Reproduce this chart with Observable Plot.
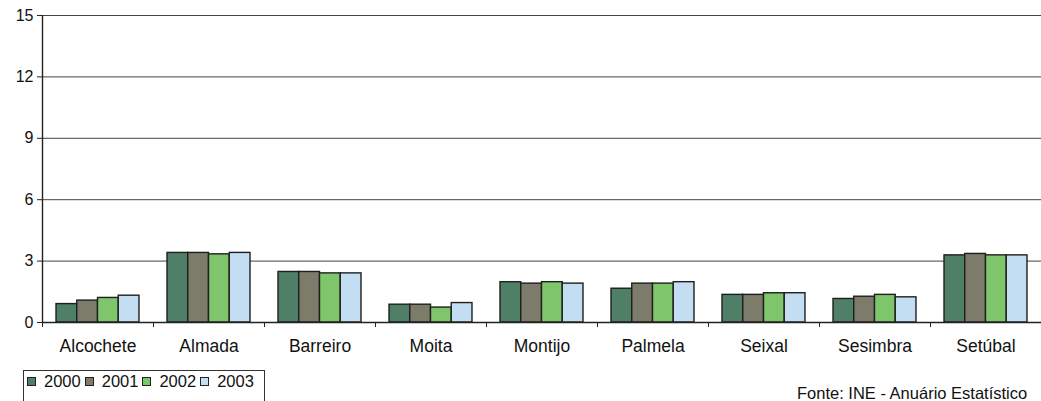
<!DOCTYPE html>
<html>
<head>
<meta charset="utf-8">
<script src="https://cdn.jsdelivr.net/npm/d3@7"></script>
<script src="https://cdn.jsdelivr.net/npm/@observablehq/plot@0.6"></script>
<style>
  body { margin: 0; background: #fff; font-family: "Liberation Sans", Arial, sans-serif; }
  #wrap { position: relative; width: 1041px; height: 401px; overflow: hidden; }
  #legend { position: absolute; left: 23px; top: 370px; width: 242px; height: 40px; border: 1px solid #333; box-sizing: border-box; font-size: 16.5px; color: #111; display: flex; align-items: flex-start; padding: 1px 0 0 3px; white-space: nowrap; overflow: hidden; }
  #legend .item { display: flex; align-items: center; margin-right: 4px; }
  #legend .sw { width: 7px; height: 7px; border: 1px solid #222; margin-right: 8px; }
  #source { position: absolute; left: 797px; top: 384px; font-size: 16.5px; color: #111; white-space: nowrap; }
</style>
</head>
<body>
<div id="wrap">
  <div id="chart"></div>
  <div id="legend"></div>
  <div id="source"></div>
</div>
<script>
const categories = ["Alcochete", "Almada", "Barreiro", "Moita", "Montijo", "Palmela", "Seixal", "Sesimbra", "Setúbal"];
const years = [2000, 2001, 2002, 2003];
const v2000 = [0.90, 3.40, 2.47, 0.87, 1.97, 1.65, 1.35, 1.15, 3.28];
const v2001 = [1.07, 3.40, 2.47, 0.87, 1.90, 1.90, 1.35, 1.26, 3.35];
const v2002 = [1.20, 3.33, 2.40, 0.73, 1.97, 1.90, 1.43, 1.35, 3.28];
const v2003 = [1.31, 3.40, 2.40, 0.95, 1.90, 1.97, 1.43, 1.23, 3.28];
const yTicks = [0, 3, 6, 9, 12, 15];
const colors = ["#4f7f66", "#7d7b69", "#7fc56c", "#c3def2"];
const sourceText = "Fonte: INE - Anuário Estatístico";

const series = [v2000, v2001, v2002, v2003];
const data = [];
categories.forEach((c, i) => years.forEach((yr, j) => data.push({category: c, year: yr, value: series[j][i]})));

const xDomain = [years[0] - 0.675, years[years.length - 1] + 1.675];

const chart = Plot.plot({
  width: 1041,
  height: 362,
  marginLeft: 42,
  marginRight: 0,
  marginTop: 15,
  marginBottom: 40,
  style: {fontFamily: "'Liberation Sans', Arial, sans-serif", background: "#fff"},
  fx: {domain: categories, padding: 0, label: null},
  x: {domain: xDomain, label: null},
  y: {domain: [0, 15], label: null},
  color: {domain: years, range: colors},
  marks: [
    Plot.ruleY(yTicks.filter(d => d > 0), {stroke: "#444", strokeWidth: 1}),
    Plot.rectY(data, {fx: "category", x1: "year", x2: d => d.year + 1, y: "value", fill: "year", stroke: "#1f1f1f", strokeWidth: 1.4}),
    Plot.ruleY([0], {stroke: "#222", strokeWidth: 1.4}),
    Plot.ruleX([{c: categories[0]}], {fx: "c", x: () => xDomain[0], y1: 0, y2: 15, stroke: "#222", strokeWidth: 1.4}),
    Plot.axisY({ticks: yTicks, tickSize: 5, tickPadding: 4, fontSize: 16, fill: "#111", stroke: "#222"}),
    Plot.axisX({ticks: [xDomain[0]], tickFormat: () => "", tickSize: 5, stroke: "#222", label: null}),
    Plot.axisFx({anchor: "bottom", tickSize: 0, tickPadding: 17, fontSize: 17.5, fill: "#111", label: null})
  ]
});
document.getElementById("chart").append(chart);

const legend = document.getElementById("legend");
years.forEach((yr, j) => {
  const item = document.createElement("div");
  item.className = "item";
  const sw = document.createElement("span");
  sw.className = "sw";
  sw.style.background = colors[j];
  const t = document.createElement("span");
  t.textContent = yr;
  item.append(sw, t);
  legend.append(item);
});
document.getElementById("source").textContent = sourceText;
</script>
</body>
</html>
